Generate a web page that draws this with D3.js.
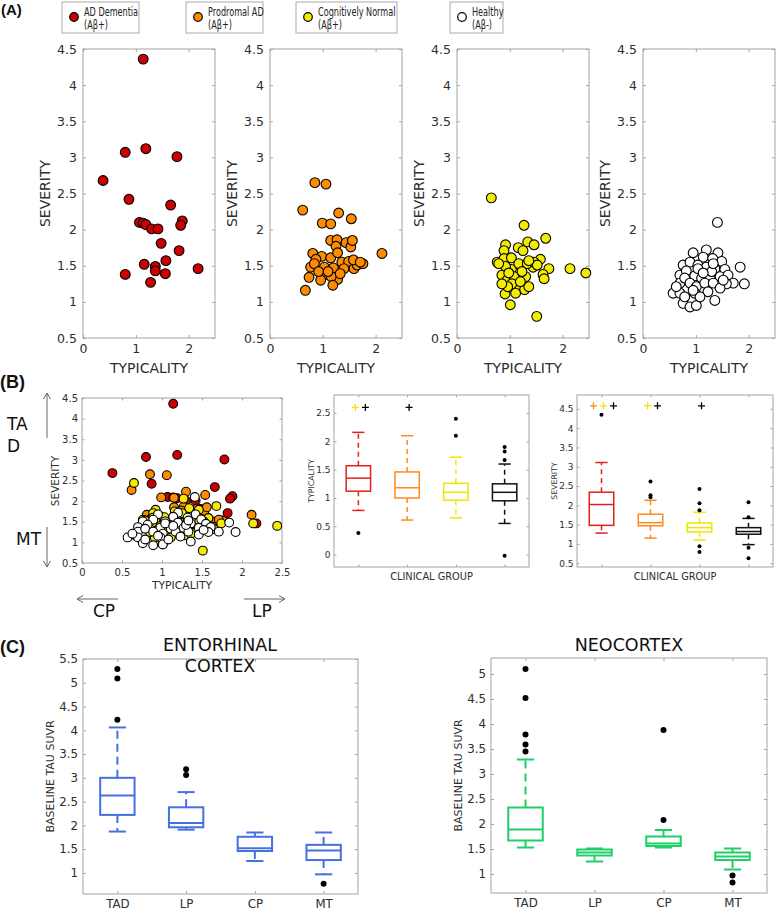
<!DOCTYPE html>
<html><head><meta charset="utf-8">
<script src="https://cdn.jsdelivr.net/npm/d3@7"></script>
<style>body{margin:0;background:#fff} svg{display:block}</style>
</head><body><svg id="c" width="777" height="911"></svg>
<script>
// ---------------- DATA ----------------
const groupNames = ["AD Dementia", "Prodromal AD", "Cognitively Normal", "Healthy"];
const groupSub = ["(Aβ+)", "(Aβ+)", "(Aβ+)", "(Aβ-)"];
const groupKeys = ["AD", "PAD", "CN", "HC"];

const adTyp = [1.14,0.80,1.19,1.78,0.38,0.87,1.66,1.07,1.14,1.19,1.30,1.42,1.88,1.85,1.48,1.82,1.16,1.37,1.37,1.57,1.56,0.80,1.28,2.18];
const adSev = [4.36,3.07,3.12,3.01,2.68,2.42,2.34,2.10,2.09,2.07,2.01,2.01,2.12,2.06,1.81,1.71,1.52,1.49,1.43,1.57,1.39,1.38,1.27,1.46];

const prodTyp = [0.85,1.06,0.62,1.30,0.99,1.15,1.54,1.15,1.27,1.25,1.44,1.53,1.56,2.12,0.81,0.98,0.87,0.77,0.84,1.15,1.28,1.03,1.20,1.36,1.49,1.59,1.65,1.76,1.40,1.07,1.28,1.16,0.96,0.74,1.19,0.67,1.58,1.71,0.92,1.10,1.33];
const prodSev = [2.65,2.63,2.27,2.23,2.09,2.08,2.15,1.85,1.86,1.77,1.82,1.76,1.85,1.67,1.67,1.63,1.59,1.48,1.53,1.61,1.68,1.48,1.47,1.55,1.56,1.46,1.51,1.53,1.46,1.38,1.31,1.35,1.30,1.34,1.23,1.16,1.58,1.55,1.42,1.42,1.39];

const cnTyp = [0.65,1.27,1.68,1.34,1.46,0.92,1.16,1.25,0.89,0.76,0.89,1.03,1.58,1.74,2.14,2.44,1.63,1.65,1.44,1.23,1.30,1.14,1.28,0.91,1.01,1.03,0.85,0.95,1.08,1.17,1.33,1.46,0.92,1.04,0.96,1.20,1.36,1.11,1.52,0.79,0.98,1.23,1.36,0.85,1.51];
const cnSev = [2.44,2.06,1.88,1.83,1.79,1.79,1.75,1.71,1.71,1.55,1.60,1.61,1.59,1.46,1.46,1.40,1.38,1.32,1.48,1.48,1.35,1.23,1.17,1.11,0.96,1.45,1.37,1.30,1.35,1.53,1.53,1.55,1.49,1.25,1.21,1.28,1.21,1.12,1.51,1.53,1.40,1.42,1.57,1.25,0.80];

const hcTyp = [1.41,1.84,1.92,0.57,0.95,1.20,1.42,1.14,1.32,1.49,0.76,0.89,1.04,1.20,1.36,1.55,0.70,0.82,0.98,1.11,1.27,1.46,1.61,1.71,1.58,0.70,0.79,0.89,1.01,1.17,1.33,1.46,1.23,0.70,0.98,1.36,0.76,0.89,1.01,0.63,1.04,1.30,1.52,0.79,1.08,1.33,0.95,1.14];
const hcSev = [2.10,1.48,1.25,1.12,1.68,1.72,1.68,1.62,1.60,1.56,1.51,1.55,1.51,1.48,1.46,1.45,1.37,1.43,1.36,1.33,1.35,1.35,1.37,1.26,1.25,1.26,1.33,1.26,1.21,1.26,1.26,1.19,1.14,1.12,1.12,1.02,0.98,0.93,0.95,1.21,1.46,1.42,1.30,1.07,1.07,1.53,1.16,1.40];

const aXTicks = [0, 1, 2];
const aYTicks = [0.5,1,1.5,2,2.5,3,3.5,4,4.5];
const bXTicks = [0,0.5,1,1.5,2,2.5];

// Box stats: [lower whisker, Q1, median, Q3, upper whisker]
const typStats = [[0.78,1.12,1.35,1.57,2.16],[0.61,1.00,1.18,1.46,2.10],[0.65,0.96,1.10,1.26,1.72],[0.55,0.95,1.10,1.25,1.60]];
const typOut = [[0.38],[],[2.40,2.10],[1.90,1.82,1.67,-0.02]];
const typSig = [["CN","HC"],["HC"],[],[]];
const typYTicks = [0,0.5,1,1.5,2,2.5];

const sevStats = [[1.28,1.48,2.02,2.34,3.11],[1.15,1.47,1.55,1.77,2.13],[1.10,1.31,1.42,1.54,1.82],[0.98,1.25,1.32,1.42,1.66]];
const sevOut = [[4.35],[2.62,2.26,2.21],[2.42,2.05,1.87,0.94,0.79],[2.08,1.69,0.90,0.63]];
const sevSig = [["PAD","CN","HC"],["CN","HC"],["HC"],[]];

const cCats = ["TAD","LP","CP","MT"];
const ecStats = [[1.87,2.22,2.63,3.00,4.06],[1.91,1.96,2.05,2.38,2.70],[1.25,1.46,1.52,1.76,1.85],[0.97,1.27,1.47,1.59,1.85]];
const ecOut = [[5.29,5.09,4.22],[3.18,3.06],[],[0.77]];
const ecYTicks = [1,1.5,2,2.5,3,3.5,4,4.5,5,5.5];
const neoStats = [[1.53,1.67,1.89,2.33,3.29],[1.25,1.37,1.43,1.49,1.51],[1.53,1.56,1.61,1.75,1.88],[1.09,1.28,1.35,1.43,1.51]];
const neoOut = [[5.10,4.52,3.79,3.59,3.45],[],[3.88,2.08],[0.97,0.83]];
const neoYTicks = [1,1.5,2,2.5,3,3.5,4,4.5,5];

// ---------------- STYLE ----------------
const FONT = "DejaVu Sans, sans-serif";
const AX = "#a3a3a3", TXT = "#2e2e2e";
const dotFill = {AD:"#cc0000", PAD:"#ff8c00", CN:"#f4ec00", HC:"#ffffff"};
const boxCol = {AD:"#e3201b", PAD:"#ff8a1a", CN:"#f2e600", HC:"#111111"};
const blue = "#4470e0", green = "#1fd068";
const numFmt = d => String(d);

const svg = d3.select("#c");

function axesBox(g, xs, ys, c) {
  const [x0, x1] = xs.range(), [yb, yt] = ys.range();
  const st = sel => {
    sel.select(".domain").remove();
    sel.selectAll(".tick line").attr("stroke", AX);
    sel.selectAll(".tick text").attr("fill", TXT).style("font-size", c.fs + "px").style("font-family", FONT);
  };
  g.append("rect").attr("x", x0).attr("y", yt).attr("width", x1 - x0).attr("height", yb - yt)
    .attr("fill", "#fff").attr("stroke", "none");
  g.append("g").attr("transform", `translate(0,${yb})`)
    .call(d3.axisBottom(xs).tickValues(c.xTicks).tickFormat(c.xFmt || numFmt).tickSizeInner(-c.tl).tickSizeOuter(0).tickPadding(c.xPad)).call(st);
  g.append("g").attr("transform", `translate(${x0},0)`)
    .call(d3.axisLeft(ys).tickValues(c.yTicks).tickFormat(numFmt).tickSizeInner(-c.tl).tickSizeOuter(0).tickPadding(c.yPad)).call(st);
  g.append("g").attr("transform", `translate(0,${yt})`)
    .call(d3.axisTop(xs).tickValues(c.xTicks).tickFormat("").tickSizeInner(-c.tl).tickSizeOuter(0)).call(st);
  g.append("g").attr("transform", `translate(${x1},0)`)
    .call(d3.axisRight(ys).tickValues(c.yTicks).tickFormat("").tickSizeInner(-c.tl).tickSizeOuter(0)).call(st);
  g.append("rect").attr("x", x0).attr("y", yt).attr("width", x1 - x0).attr("height", yb - yt)
    .attr("fill", "none").attr("stroke", AX).attr("stroke-width", 1);
}
function vlabel(x, y, t, fs, col) {
  svg.append("text").attr("transform", `translate(${x},${y}) rotate(-90)`).attr("text-anchor", "middle")
    .style("font-family", FONT).style("font-size", fs + "px").attr("fill", col || TXT).text(t);
}
function hlabel(x, y, t, fs, col, anchor) {
  svg.append("text").attr("x", x).attr("y", y).attr("text-anchor", anchor || "middle")
    .style("font-family", FONT).style("font-size", fs + "px").attr("fill", col || TXT).text(t);
}
function dots(g, xs, ys, tx, sv, fill, r) {
  g.append("g").selectAll("circle").data(d3.zip(tx, sv)).join("circle")
    .attr("cx", d => xs(d[0])).attr("cy", d => ys(d[1])).attr("r", r)
    .attr("fill", fill).attr("stroke", "#000").attr("stroke-width", 1.1);
}
function box(g, xs, ys, pos, s, col, lw, dash, outs, outR) {
  const cx = xs(pos), bw = 0.5 * (xs(2) - xs(1));
  const [lo, q1, med, q3, hi] = s;
  g.append("line").attr("x1", cx).attr("x2", cx).attr("y1", ys(q3)).attr("y2", ys(hi))
    .attr("stroke", col).attr("stroke-width", lw).attr("stroke-dasharray", dash);
  g.append("line").attr("x1", cx).attr("x2", cx).attr("y1", ys(q1)).attr("y2", ys(lo))
    .attr("stroke", col).attr("stroke-width", lw).attr("stroke-dasharray", dash);
  [lo, hi].forEach(v => g.append("line").attr("x1", cx - bw / 4).attr("x2", cx + bw / 4)
    .attr("y1", ys(v)).attr("y2", ys(v)).attr("stroke", col).attr("stroke-width", lw));
  g.append("rect").attr("x", cx - bw / 2).attr("y", ys(q3)).attr("width", bw).attr("height", ys(q1) - ys(q3))
    .attr("fill", "none").attr("stroke", col).attr("stroke-width", lw);
  g.append("line").attr("x1", cx - bw / 2).attr("x2", cx + bw / 2).attr("y1", ys(med)).attr("y2", ys(med))
    .attr("stroke", col).attr("stroke-width", lw);
  g.append("g").selectAll("circle").data(outs).join("circle")
    .attr("cx", cx).attr("cy", d => ys(d)).attr("r", outR).attr("fill", "#000");
}
function plus(g, x, y, col, sz) {
  g.append("path").attr("d", `M${x - sz},${y}H${x + sz}M${x},${y - sz}V${y + sz}`)
    .attr("stroke", col).attr("stroke-width", 1.3).attr("fill", "none");
}
function arrow(x1, y1, x2, y2) {
  const a = Math.atan2(y2 - y1, x2 - x1), L = 7, w = Math.PI / 6;
  const p1 = [x2 - L * Math.cos(a - w), y2 - L * Math.sin(a - w)];
  const p2 = [x2 - L * Math.cos(a + w), y2 - L * Math.sin(a + w)];
  svg.append("path").attr("d", `M${x1},${y1}L${x2},${y2}M${p1[0]},${p1[1]}L${x2},${y2}L${p2[0]},${p2[1]}`)
    .attr("stroke", "#666").attr("stroke-width", 1).attr("fill", "none");
}
function panelLabel(x, y, t, fs) {
  svg.append("text").attr("x", x).attr("y", y).style("font-family", "Liberation Sans, Arial, sans-serif")
    .style("font-weight", "bold").style("font-size", fs + "px").attr("fill", "#111").text(t);
}

// ---------------- PANEL A ----------------
panelLabel(1, 15, "(A)", 15);
const legendBoxes = [[62, 139], [186, 263], [296, 397], [450, 503]];
function narrowText(x, y, t) {
  svg.append("text").attr("transform", `translate(${x},${y}) scale(0.65,1)`)
    .style("font-family", FONT).style("font-size", "12.5px").attr("fill", "#222").text(t);
}
groupNames.forEach((n, i) => {
  const [lx0, lx1] = legendBoxes[i];
  svg.append("rect").attr("x", lx0).attr("y", 2).attr("width", lx1 - lx0).attr("height", 31)
    .attr("fill", "#fff").attr("stroke", "#aaa").attr("stroke-width", 1);
  svg.append("circle").attr("cx", lx0 + 12).attr("cy", 17).attr("r", 4.3)
    .attr("fill", dotFill[groupKeys[i]]).attr("stroke", "#000").attr("stroke-width", 1.2);
  narrowText(lx0 + 22, 15.5, n);
  narrowText(lx0 + 22, 29, groupSub[i]);
});

const aLefts = [83, 270, 457, 643];
const aSets = [[adTyp, adSev], [prodTyp, prodSev], [cnTyp, cnSev], [hcTyp, hcSev]];
aLefts.forEach((L, i) => {
  const xs = d3.scaleLinear().domain([0, 2.5]).range([L, L + 132]);
  const ys = d3.scaleLinear().domain([0.5, 4.5]).range([338, 49]);
  const g = svg.append("g");
  axesBox(g, xs, ys, {xTicks: aXTicks, yTicks: aYTicks, fs: 12.5, tl: 3, xPad: 6, yPad: 6});
  dots(g, xs, ys, aSets[i][0], aSets[i][1], dotFill[groupKeys[i]], 4.9);
  hlabel(L + 66, 373, "TYPICALITY", 14);
  vlabel(L - 33, 193.5, "SEVERITY", 14);
});

// ---------------- PANEL B ----------------
panelLabel(0, 388, "(B)", 18);
{
  const xs = d3.scaleLinear().domain([0, 2.5]).range([82, 282]);
  const ys = d3.scaleLinear().domain([0.5, 4.5]).range([563, 398]);
  const g = svg.append("g");
  axesBox(g, xs, ys, {xTicks: bXTicks, yTicks: aYTicks, fs: 10, tl: 2.5, xPad: 6, yPad: 4});
  aSets.forEach((s, i) => dots(g, xs, ys, s[0], s[1], dotFill[groupKeys[i]], 4.4));
  hlabel(182, 589, "TYPICALITY", 10.8);
  vlabel(59, 481, "SEVERITY", 10.5);
  arrow(47, 438, 47, 393);
  arrow(47, 527, 47, 567);
  arrow(118, 599, 77, 599);
  arrow(244, 599, 285, 599);
  hlabel(7, 430, "TA", 17, "#111", "start");
  hlabel(7, 452, "D", 17, "#111", "start");
  hlabel(16, 545, "MT", 17, "#111", "start");
  hlabel(93, 617, "CP", 17, "#111", "start");
  hlabel(252, 617, "LP", 17, "#111", "start");
}
function bBox(left, right, dom, yTicks, stats, outs, sig, sigY, ylab) {
  const xs = d3.scaleLinear().domain([0.5, 4.5]).range([left, right]);
  const ys = d3.scaleLinear().domain(dom).range([567, 395]);
  const g = svg.append("g");
  axesBox(g, xs, ys, {xTicks: [1, 2, 3, 4], xFmt: () => "", yTicks: yTicks, fs: 9, tl: 2.5, xPad: 4, yPad: 3.5});
  stats.forEach((s, i) => box(g, xs, ys, i + 1, s, boxCol[groupKeys[i]], 1.5, "5,4", outs[i], 2));
  sig.forEach((marks, i) => {
    const n = marks.length;
    marks.forEach((k, j) => plus(g, xs(i + 1) + 2 + (j - (n - 1) / 2) * 10, ys(sigY), boxCol[k] === "#111111" ? "#000" : boxCol[k], 3.5));
  });
  hlabel((left + right) / 2, 580, "CLINICAL GROUP", 9.8);
  vlabel(left - 20, 481, ylab, 7.8);
}
bBox(334, 529, [-0.22, 2.82], typYTicks, typStats, typOut, typSig, 2.6, "TYPICALITY");
bBox(577, 773, [0.4, 4.86], aYTicks, sevStats, sevOut, sevSig, 4.58, "SEVERITY");

// ---------------- PANEL C ----------------
panelLabel(0, 653, "(C)", 18);
function cBox(left, right, top, bottom, dom, yTicks, stats, outs, col, titles, titleX) {
  const xs = d3.scaleLinear().domain([0.5, 4.5]).range([left, right]);
  const ys = d3.scaleLinear().domain(dom).range([bottom, top]);
  const g = svg.append("g");
  axesBox(g, xs, ys, {xTicks: [1, 2, 3, 4], xFmt: d => cCats[d - 1], yTicks: yTicks, fs: 11.8, tl: 3, xPad: 6, yPad: 5});
  stats.forEach((s, i) => box(g, xs, ys, i + 1, s, col, 2, "8,5", outs[i], 3));
  titles.forEach((t, k) => hlabel(titleX, 651 + k * 21, t, 17.5, "#111"));
  vlabel(left - 29, (top + bottom) / 2, "BASELINE TAU SUVR", 11, TXT);
}
cBox(83, 358, 659, 894, [0.556, 5.5], ecYTicks, ecStats, ecOut, blue, ["ENTORHINAL", "CORTEX"], 220);
cBox(491, 767, 658, 893, [0.62, 5.32], neoYTicks, neoStats, neoOut, green, ["NEOCORTEX"], 629);
</script></body></html>
